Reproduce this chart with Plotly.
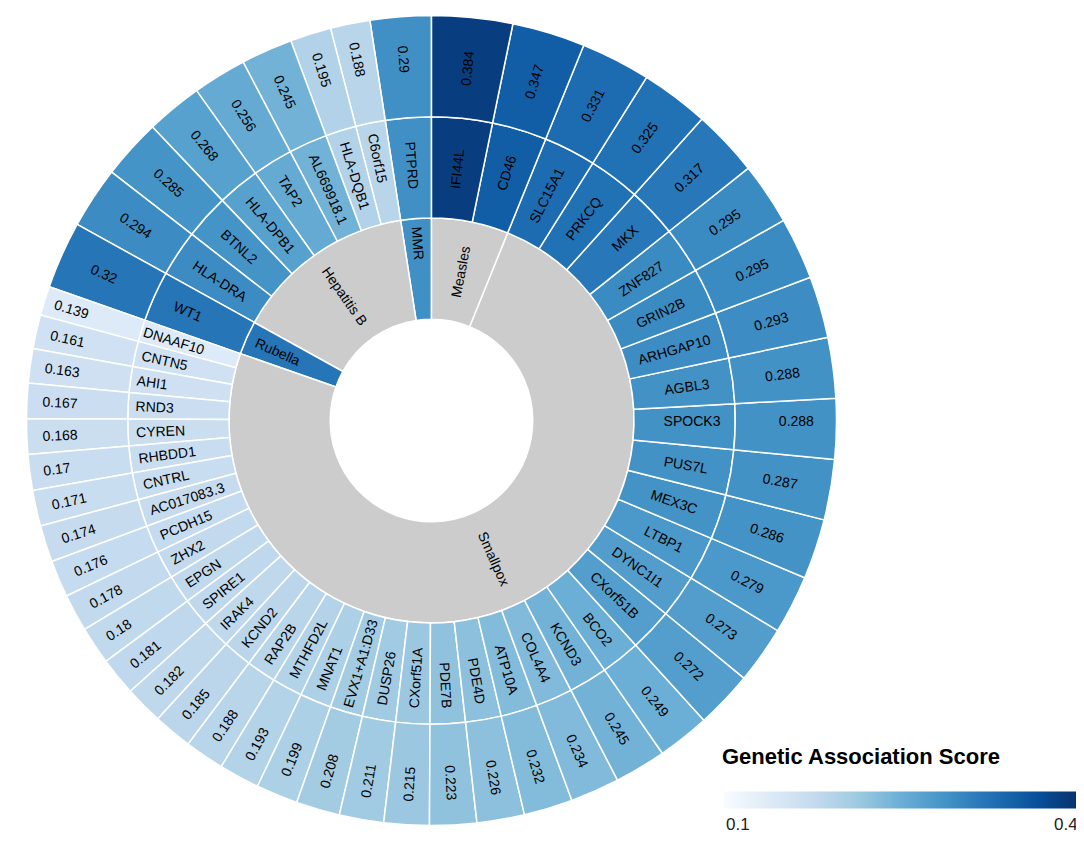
import math
import plotly.graph_objects as go
from plotly.colors import sample_colorscale, sequential

# genes in clockwise order from 12 o'clock
genes = [
    "IFI44L", "CD46",
    "SLC15A1", "PRKCQ", "MKX", "ZNF827", "GRIN2B", "ARHGAP10", "AGBL3", "SPOCK3",
    "PUS7L", "MEX3C", "LTBP1", "DYNC1I1", "CXorf51B", "BCO2", "KCND3", "COL4A4",
    "ATP10A", "PDE4D", "PDE7B", "CXorf51A", "DUSP26", "EVX1+A1:D33", "MNAT1",
    "MTHFD2L", "RAP2B", "KCND2", "IRAK4", "SPIRE1", "EPGN", "ZHX2", "PCDH15",
    "AC017083.3", "CNTRL", "RHBDD1", "CYREN", "RND3", "AHI1", "CNTN5", "DNAAF10",
    "WT1",
    "HLA-DRA", "BTNL2", "HLA-DPB1", "TAP2", "AL669918.1", "HLA-DQB1", "C6orf15",
    "PTPRD",
]
gene_disease = (["Measles"] * 2 + ["Smallpox"] * 39 + ["Rubella"]
                + ["Hepatitis B"] * 7 + ["MMR"])
scores = [
    0.384, 0.347,
    0.331, 0.325, 0.317, 0.295, 0.295, 0.293, 0.288, 0.288,
    0.287, 0.286, 0.279, 0.273, 0.272, 0.249, 0.245, 0.234,
    0.232, 0.226, 0.223, 0.215, 0.211, 0.208, 0.199,
    0.193, 0.188, 0.185, 0.182, 0.181, 0.18, 0.178, 0.176,
    0.174, 0.171, 0.17, 0.168, 0.167, 0.163, 0.161, 0.139,
    0.32,
    0.294, 0.285, 0.268, 0.256, 0.245, 0.195, 0.188,
    0.29,
]
diseases = ["Measles", "Smallpox", "Rubella", "Hepatitis B", "MMR"]

cmin, cmax = 0.1, 0.4
scale = sequential.Blues
grey = "#cccccc"
W, H = 1084, 845
cx, cy, R = 423.5, 412.5, 405  # sunburst centre and radius in px

def score_color(v):
    return sample_colorscale(scale, [(v - cmin) / (cmax - cmin)])[0]

ids, labels, parents, values, colors, texts = ["root"], [""], [""], [0], ["white"], [""]

# plotly lays sectors out counterclockwise, so feed them in reverse
for d in reversed(diseases):
    d_scores = [s for s, dd in zip(scores, gene_disease) if dd == d]
    ids.append("d_" + d)
    labels.append(d)
    parents.append("root")
    values.append(0)
    colors.append(score_color(d_scores[0]) if len(d_scores) == 1 else grey)
    # the big Smallpox label is placed by hand further down
    texts.append("" if d == "Smallpox" else d)

for g, d, s in reversed(list(zip(genes, gene_disease, scores))):
    ids.append("g_" + g)
    labels.append(g)
    parents.append("d_" + d)
    values.append(0)
    colors.append(score_color(s))
    texts.append(g)
    ids.append("s_" + g)
    labels.append(f"{s:g}")
    parents.append("g_" + g)
    values.append(s)
    colors.append(score_color(s))
    texts.append(f"{s:g}")

fig = go.Figure()

fig.add_trace(go.Sunburst(
    ids=ids,
    labels=labels,
    parents=parents,
    values=values,
    text=texts,
    textinfo="text",
    branchvalues="remainder",
    sort=False,
    rotation=90,
    marker=dict(colors=colors, line=dict(color="white", width=1.5)),
    leaf=dict(opacity=1),
    insidetextorientation="radial",
    textfont=dict(family="Liberation Sans", size=14, color="black"),
    hoverinfo="none",
    domain=dict(x=[(cx - R) / W, (cx + R) / W], y=[1 - (cy + R) / H, 1 - (cy - R) / H]),
))

# Smallpox label at the middle of its sector, oriented along the radius
total = sum(scores)
start = sum(s for s, d in zip(scores, gene_disease) if d == "Measles")
span = sum(s for s, d in zip(scores, gene_disease) if d == "Smallpox")
mid = (start + span / 2) / total * 2 * math.pi  # clockwise from 12 o'clock
r_lab = R * 0.375
lx = cx + r_lab * math.sin(mid)
ly = cy - r_lab * math.cos(mid)
fig.add_annotation(
    x=lx / W, y=1 - ly / H, xref="paper", yref="paper", showarrow=False,
    text="Smallpox", textangle=math.degrees(mid) - 90,
    font=dict(family="Liberation Sans", size=14, color="black"),
)

# invisible trace only to carry the colour bar
bar_x0, bar_x1, bar_y = 716, 1072, 791.5
fig.add_trace(go.Scatter(
    x=[None], y=[None], mode="markers", showlegend=False, hoverinfo="none",
    marker=dict(
        color=[cmin], cmin=cmin, cmax=cmax, colorscale=scale, showscale=True,
        colorbar=dict(
            orientation="h", x=(bar_x0 + bar_x1) / 2 / W, xanchor="center",
            y=1 - bar_y / H, yanchor="middle", len=(bar_x1 - bar_x0) / W,
            lenmode="fraction", thickness=17, outlinewidth=0, xpad=0, ypad=0,
            tickvals=[cmin, cmax], ticks="", showticklabels=False,
        ),
    ),
))

# end labels of the colour bar, aligned to the bar ends
for val, xpos, anchor in [(cmin, bar_x0, "left"), (cmax, bar_x1, "right")]:
    fig.add_annotation(
        x=xpos / W, y=1 - 816 / H, xref="paper", yref="paper", showarrow=False,
        xanchor=anchor, yanchor="middle", text=f"{val:g}",
        font=dict(family="Liberation Sans", size=17, color="#222"),
    )

fig.add_annotation(
    x=712 / W, y=1 - 748 / H, xref="paper", yref="paper", showarrow=False,
    xanchor="left", yanchor="middle",
    text="<b>Genetic Association Score</b>",
    font=dict(family="Liberation Sans", size=22, color="black"),
)

fig.update_layout(
    width=W, height=H,
    margin=dict(l=0, r=0, t=0, b=0),
    paper_bgcolor="white", plot_bgcolor="white",
    xaxis=dict(visible=False), yaxis=dict(visible=False),
)

fig.write_html("out.html")
